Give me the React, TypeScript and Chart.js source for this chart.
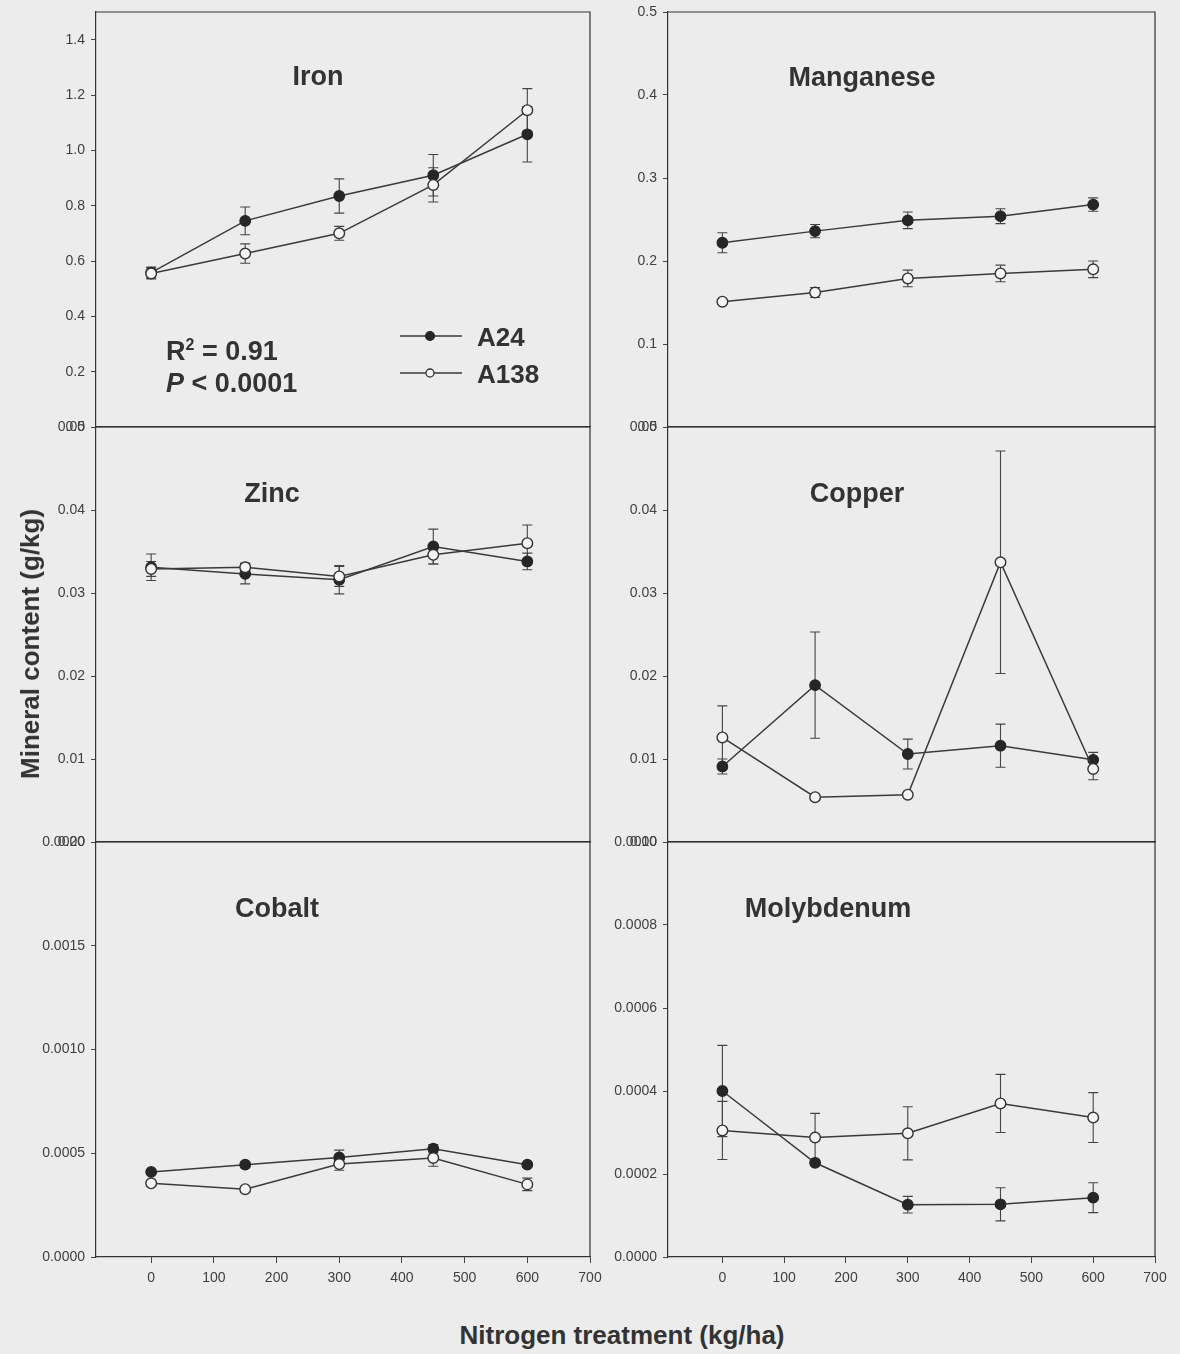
import React, { useEffect, useRef } from 'react';
import { Chart, registerables } from 'chart.js';
Chart.register(...registerables);

// ---------- data ----------
const nitrogen = [0, 150, 300, 450, 600];
const seriesNames = ['A24', 'A138'];

const ironA24 = [0.558, 0.745, 0.835, 0.91, 1.058];
const ironA24Err = [0.02, 0.05, 0.062, 0.075, 0.1];
const ironA138 = [0.555, 0.627, 0.7, 0.875, 1.145];
const ironA138Err = [0.02, 0.035, 0.025, 0.062, 0.078];

const mnA24 = [0.222, 0.236, 0.249, 0.254, 0.268];
const mnA24Err = [0.012, 0.008, 0.01, 0.009, 0.008];
const mnA138 = [0.151, 0.162, 0.179, 0.185, 0.19];
const mnA138Err = [0.003, 0.006, 0.01, 0.01, 0.01];

const znA24 = [0.0331, 0.0323, 0.0316, 0.0356, 0.0338];
const znA24Err = [0.0016, 0.0012, 0.0017, 0.0021, 0.001];
const znA138 = [0.0329, 0.0331, 0.032, 0.0346, 0.036];
const znA138Err = [0.0009, 0.0005, 0.0012, 0.0011, 0.0022];

const cuA24 = [0.0091, 0.0189, 0.0106, 0.0116, 0.0099];
const cuA24Err = [0.0009, 0.0064, 0.0018, 0.0026, 0.0009];
const cuA138 = [0.0126, 0.0054, 0.0057, 0.0337, 0.0088];
const cuA138Err = [0.0038, 0.0003, 0.0002, 0.0134, 0.0013];

const coA24 = [0.00041, 0.000445, 0.00048, 0.000522, 0.000445];
const coA24Err = [0.00001, 0.000015, 0.000035, 0.00002, 0.00001];
const coA138 = [0.000355, 0.000327, 0.000448, 0.000477, 0.00035];
const coA138Err = [0.000008, 0.000008, 0.00003, 0.00004, 0.00003];

const moA24 = [0.0004, 0.000227, 0.000126, 0.000127, 0.000143];
const moA24Err = [0.00011, 0.000006, 0.00002, 0.00004, 0.000036];
const moA138 = [0.000305, 0.000288, 0.000298, 0.00037, 0.000336];
const moA138Err = [0.00007, 0.000058, 0.000064, 0.00007, 0.00006];

const panelTitles = ['Iron', 'Manganese', 'Zinc', 'Copper', 'Cobalt', 'Molybdenum'];
const panelYMax = [1.5, 0.5, 0.05, 0.05, 0.002, 0.001];
const panelYStep = [0.2, 0.1, 0.01, 0.01, 0.0005, 0.0002];
const panelYDecimals = [1, 1, 2, 2, 4, 4];
const panelA24 = [ironA24, mnA24, znA24, cuA24, coA24, moA24];
const panelA24Err = [ironA24Err, mnA24Err, znA24Err, cuA24Err, coA24Err, moA24Err];
const panelA138 = [ironA138, mnA138, znA138, cuA138, coA138, moA138];
const panelA138Err = [ironA138Err, mnA138Err, znA138Err, cuA138Err, coA138Err, moA138Err];

const xMin = -88;
const xMax = 700;
const xStep = 100;

// ---------- layout ----------
const colLeft = [96, 668];
const colRight = [590, 1155];
const rowTop = [12, 427, 842];
const rowBottom = [427, 842, 1257];
const titlePos = [
  [318, 76], [862, 77], [272, 493], [857, 493], [277, 908], [828, 908],
];

const FONT = '"Liberation Sans", Arial, Helvetica, sans-serif';
const INK = '#333333';
const BG = '#ececec';

const LEFT_W = 80;
const RIGHT_PAD = 22;
const TOP_PAD = 22;

function Panel({ idx }: { idx: number }) {
  const ref = useRef<HTMLCanvasElement | null>(null);
  const col = idx % 2;
  const row = Math.floor(idx / 2);
  const showX = row === 2;
  const bottomH = showX ? 42 : 22;
  const plotW = colRight[col] - colLeft[col];
  const plotH = rowBottom[row] - rowTop[row];
  const cw = LEFT_W + plotW + RIGHT_PAD;
  const ch = TOP_PAD + plotH + bottomH;

  useEffect(() => {
    if (!ref.current) return;
    const errA24 = panelA24Err[idx];
    const errA138 = panelA138Err[idx];
    const errorBars = {
      id: 'errorBars' + idx,
      beforeDatasetsDraw(chart: any) {
        const ctx = chart.ctx;
        const xs = chart.scales.x;
        const ys = chart.scales.y;
        const sets = [
          { vals: panelA24[idx], errs: errA24 },
          { vals: panelA138[idx], errs: errA138 },
        ];
        ctx.save();
        ctx.strokeStyle = '#444';
        ctx.lineWidth = 1.1;
        for (const s of sets) {
          s.vals.forEach((v: number, i: number) => {
            const px = xs.getPixelForValue(nitrogen[i]);
            const top = ys.getPixelForValue(v + s.errs[i]);
            const bot = ys.getPixelForValue(v - s.errs[i]);
            ctx.beginPath();
            ctx.moveTo(px, top);
            ctx.lineTo(px, bot);
            ctx.moveTo(px - 5, top);
            ctx.lineTo(px + 5, top);
            ctx.moveTo(px - 5, bot);
            ctx.lineTo(px + 5, bot);
            ctx.stroke();
          });
        }
        ctx.restore();
      },
    };
    const frame = {
      id: 'frame' + idx,
      afterDraw(chart: any) {
        const a = chart.chartArea;
        const ctx = chart.ctx;
        ctx.save();
        ctx.strokeStyle = INK;
        ctx.lineWidth = 1.2;
        ctx.beginPath();
        ctx.moveTo(a.left, a.top);
        ctx.lineTo(a.right, a.top);
        ctx.lineTo(a.right, a.bottom);
        ctx.stroke();
        ctx.restore();
      },
    };
    const chart = new Chart(ref.current, {
      type: 'line',
      data: {
        datasets: [
          {
            label: seriesNames[0],
            data: nitrogen.map((x, i) => ({ x, y: panelA24[idx][i] })),
            borderColor: '#3a3a3a',
            borderWidth: 1.5,
            backgroundColor: '#222',
            pointBackgroundColor: '#262626',
            pointBorderColor: '#262626',
            pointRadius: 5.3,
            pointBorderWidth: 1.2,
            tension: 0,
            order: 2,
          },
          {
            label: seriesNames[1],
            data: nitrogen.map((x, i) => ({ x, y: panelA138[idx][i] })),
            borderColor: '#3a3a3a',
            borderWidth: 1.5,
            backgroundColor: '#f4f4f4',
            pointBackgroundColor: '#f4f4f4',
            pointBorderColor: '#333',
            pointRadius: 5.3,
            pointBorderWidth: 1.4,
            tension: 0,
            order: 1,
          },
        ],
      },
      options: {
        animation: false,
        responsive: false,
        devicePixelRatio: 1,
        layout: { padding: { top: TOP_PAD, right: RIGHT_PAD, left: 0, bottom: 0 } },
        plugins: { legend: { display: false }, tooltip: { enabled: false }, title: { display: false } },
        scales: {
          x: {
            type: 'linear',
            position: 'bottom',
            min: xMin,
            max: xMax,
            ticks: {
              stepSize: xStep,
              includeBounds: false,
              display: showX,
              color: '#404040',
              font: { family: FONT, size: 14 },
              padding: 7,
              maxRotation: 0,
            },
            grid: { display: true, drawOnChartArea: false, drawTicks: showX, tickLength: 6, color: '#444' },
            border: { display: true, color: INK, width: 1.2 },
            afterFit: (s: any) => { s.height = bottomH; },
          },
          y: {
            type: 'linear',
            min: 0,
            max: panelYMax[idx],
            ticks: {
              stepSize: panelYStep[idx],
              includeBounds: false,
              color: '#404040',
              font: { family: FONT, size: 14 },
              padding: 6,
              callback: (v: any) => Number(v).toFixed(panelYDecimals[idx]),
            },
            grid: { display: true, drawOnChartArea: false, drawTicks: true, tickLength: 5, color: '#444' },
            border: { display: true, color: INK, width: 1.2 },
            afterFit: (s: any) => { s.width = LEFT_W; },
          },
        },
      } as any,
      plugins: [errorBars, frame],
    });
    return () => chart.destroy();
  }, [idx]);

  return (
    <canvas
      ref={ref}
      width={cw}
      height={ch}
      style={{
        position: 'absolute',
        left: colLeft[col] - LEFT_W,
        top: rowTop[row] - TOP_PAD,
        width: cw,
        height: ch,
      }}
    />
  );
}

const textBase: React.CSSProperties = {
  position: 'absolute',
  fontFamily: FONT,
  fontWeight: 'bold',
  color: INK,
  whiteSpace: 'nowrap',
  lineHeight: 1,
};

export default function App() {
  return (
    <div style={{ position: 'absolute', left: 0, top: 0, width: 1180, height: 1354, background: BG, overflow: 'hidden' }}>
      {panelTitles.map((_, i) => <Panel key={i} idx={i} />)}
      {panelTitles.map((t, i) => (
        <div key={'t' + i} style={{ ...textBase, fontSize: 27, left: titlePos[i][0], top: titlePos[i][1], transform: 'translate(-50%,-50%)' }}>{t}</div>
      ))}
      <div style={{ ...textBase, fontSize: 27, left: 166, top: 351, transform: 'translateY(-50%)' }}>
        R<sup style={{ fontSize: 16, verticalAlign: 'super', lineHeight: 0 }}>2</sup> = 0.91
      </div>
      <div style={{ ...textBase, fontSize: 27, left: 166, top: 383, transform: 'translateY(-50%)' }}>
        <i>P</i> &lt; 0.0001
      </div>
      <svg style={{ position: 'absolute', left: 392, top: 320, width: 80, height: 70 }} width={80} height={70}>
        <line x1={8} y1={16} x2={70} y2={16} stroke="#3a3a3a" strokeWidth={1.5} />
        <circle cx={38} cy={16} r={4.5} fill="#262626" stroke="#262626" strokeWidth={1.2} />
        <line x1={8} y1={53} x2={70} y2={53} stroke="#3a3a3a" strokeWidth={1.5} />
        <circle cx={38} cy={53} r={4} fill="#f4f4f4" stroke="#333" strokeWidth={1.3} />
      </svg>
      <div style={{ ...textBase, fontSize: 26, left: 477, top: 337, transform: 'translateY(-50%)' }}>{seriesNames[0]}</div>
      <div style={{ ...textBase, fontSize: 26, left: 477, top: 374, transform: 'translateY(-50%)' }}>{seriesNames[1]}</div>
      <div style={{ ...textBase, fontSize: 26, left: 30, top: 644, transform: 'translate(-50%,-50%) rotate(-90deg)' }}>
        Mineral content (g/kg)
      </div>
      <div style={{ ...textBase, fontSize: 26, left: 622, top: 1335, transform: 'translate(-50%,-50%)' }}>
        Nitrogen treatment (kg/ha)
      </div>
    </div>
  );
}
